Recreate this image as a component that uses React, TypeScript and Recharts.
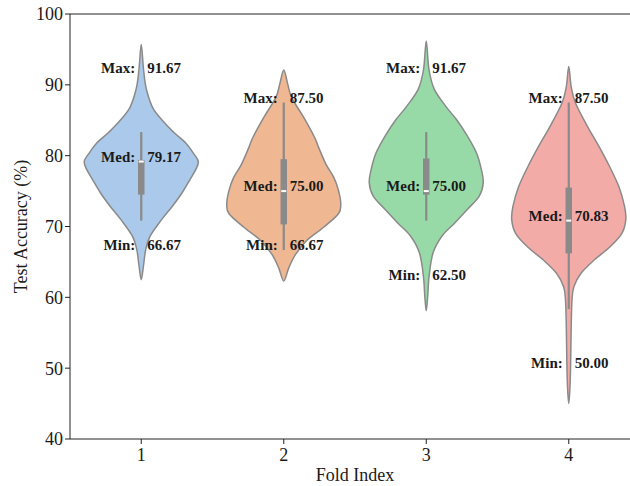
import { ComposedChart, Scatter, XAxis, YAxis, ReferenceLine } from 'recharts';

const FOLDS = [1, 2, 3, 4];
const FOLD_COLORS = ['#abc9ea', '#efb792', '#98daa7', '#f3aba8'];
const Y_TICKS = [40, 50, 60, 70, 80, 90, 100];

// kde outline of every fold: accuracy level and relative density (1 = widest point)
const fold1Levels = [62.5, 64.5, 66.8, 68.7, 71.0, 72.9, 74.8, 76.7, 78.1, 79.2, 80.4, 81.8, 83.7, 86.5, 89.4, 92.2, 95.7];
const fold1Density = [0, 0.04, 0.08, 0.16, 0.36, 0.55, 0.72, 0.86, 0.96, 1.0, 0.91, 0.78, 0.52, 0.22, 0.09, 0.04, 0];
const fold2Levels = [62.3, 64.2, 66.1, 68.0, 69.9, 71.8, 73.2, 75.1, 76.9, 78.8, 81.2, 82.6, 85.4, 88.2, 90.1, 92.1];
const fold2Density = [0, 0.09, 0.21, 0.4, 0.7, 0.96, 1.0, 0.96, 0.88, 0.74, 0.61, 0.54, 0.35, 0.14, 0.07, 0];
const fold3Levels = [58.1, 60.2, 63.0, 66.3, 68.7, 70.5, 72.4, 74.3, 76.2, 78.1, 80.4, 82.8, 85.1, 87.0, 89.4, 92.2, 96.2];
const fold3Density = [0, 0.026, 0.05, 0.12, 0.28, 0.5, 0.72, 0.93, 1.0, 0.965, 0.88, 0.72, 0.53, 0.34, 0.14, 0.047, 0];
const fold4Levels = [45.0, 47.4, 51.1, 55.9, 59.6, 61.5, 63.4, 65.3, 67.1, 69.0, 70.9, 72.8, 75.6, 78.4, 81.3, 84.1, 87.4, 89.7, 92.6];
const fold4Density = [0, 0.022, 0.034, 0.043, 0.057, 0.09, 0.215, 0.45, 0.72, 0.93, 1.0, 0.98, 0.88, 0.72, 0.53, 0.33, 0.12, 0.043, 0];

// box statistics per fold
const whiskerLow = [70.83, 66.67, 70.83, 58.33];
const whiskerHigh = [83.33, 87.5, 83.33, 87.5];
const q1 = [74.5, 70.3, 74.5, 66.2];
const q3 = [79.4, 79.5, 79.6, 75.5];
const medians = [79.17, 75.0, 75.0, 70.83];
const maxAcc = [91.67, 87.5, 91.67, 87.5];
const minAcc = [66.67, 66.67, 62.5, 50.0];

const levels = [fold1Levels, fold2Levels, fold3Levels, fold4Levels];
const densities = [fold1Density, fold2Density, fold3Density, fold4Density];

const HALF_WIDTH = 0.4; // widest point of a violin, in fold units
const EDGE = '#8a8a8a';
const SERIF = '"Liberation Serif", "Times New Roman", serif';

// closed polygon outline: up the right side, back down the left side
const violinOutline = (fold: number, ys: number[], ds: number[]) => {
  const right = ys.map((y, i) => ({ x: fold + ds[i] * HALF_WIDTH, y }));
  const left = ys
    .map((y, i) => ({ x: fold - ds[i] * HALF_WIDTH, y }))
    .slice(1, -1)
    .reverse();
  return [...right, ...left];
};

// smooth closed path through the projected points (catmull-rom)
const smoothClosed = (pts: { x: number; y: number }[]) => {
  const n = pts.length;
  let d = `M${pts[0].x},${pts[0].y}`;
  for (let i = 0; i < n; i++) {
    const p0 = pts[(i - 1 + n) % n];
    const p1 = pts[i];
    const p2 = pts[(i + 1) % n];
    const p3 = pts[(i + 2) % n];
    const c1x = p1.x + (p2.x - p0.x) / 6;
    const c1y = p1.y + (p2.y - p0.y) / 6;
    const c2x = p2.x - (p3.x - p1.x) / 6;
    const c2y = p2.y - (p3.y - p1.y) / 6;
    d += ` C${c1x},${c1y} ${c2x},${c2y} ${p2.x},${p2.y}`;
  }
  return d + 'Z';
};

// pairs of points -> vertical segments
const segments = (width: number) => (props: any) => {
  const pts = props.points || [];
  const out = [];
  for (let i = 0; i + 1 < pts.length; i += 2) {
    out.push(
      <line key={i} x1={pts[i].x} y1={pts[i].y} x2={pts[i + 1].x} y2={pts[i + 1].y} stroke={EDGE} strokeWidth={width} />
    );
  }
  return <g>{out}</g>;
};

const noSymbol = () => <g />;

const whiskerData = FOLDS.flatMap((f, i) => [
  { x: f, y: whiskerLow[i] },
  { x: f, y: whiskerHigh[i] },
]);
const boxData = FOLDS.flatMap((f, i) => [
  { x: f, y: q1[i] },
  { x: f, y: q3[i] },
]);
const medianData = FOLDS.map((f, i) => ({ x: f, y: medians[i] }));
const labelData = FOLDS.flatMap((f, i) => [
  { x: f, y: maxAcc[i], tag: 'Max:' },
  { x: f, y: medians[i], tag: 'Med:' },
  { x: f, y: minAcc[i], tag: 'Min:' },
]);

const StatLabel = (props: any) => {
  const { cx, cy, payload } = props;
  const style = { fontFamily: SERIF, fontWeight: 700, fontSize: 15, fill: '#1a1a1a' };
  return (
    <g>
      <text x={cx - 6} y={cy} textAnchor="end" style={style}>
        {payload.tag}
      </text>
      <text x={cx + 6} y={cy} textAnchor="start" style={style}>
        {payload.y.toFixed(2)}
      </text>
    </g>
  );
};

const MedianMark = (props: any) => (
  <rect x={props.cx - 2.5} y={props.cy - 1} width={5} height={2} fill="#ffffff" />
);

const tickStyle = { fill: '#1a1a1a', fontSize: 18, fontFamily: SERIF };

export default function App() {
  return (
    <div style={{ position: 'absolute', left: 0, top: 0, width: 630, height: 486, overflow: 'hidden', background: '#fff' }}>
      <ComposedChart width={640} height={486} margin={{ top: 14, right: 0, bottom: 0, left: 0 }}>
        <XAxis
          type="number"
          dataKey="x"
          domain={[0.5, 4.5]}
          ticks={FOLDS}
          interval={0}
          height={47}
          tickSize={5}
          tickMargin={4}
          tick={tickStyle}
          axisLine={{ stroke: '#222' }}
          tickLine={{ stroke: '#222' }}
          label={{
            content: (p: any) => {
              const vb = p.viewBox || { x: 70, y: 439, width: 570, height: 47 };
              return (
                <text x={vb.x + vb.width / 2} y={481} textAnchor="middle" style={tickStyle}>
                  Fold Index
                </text>
              );
            },
          }}
        />
        <YAxis
          type="number"
          dataKey="y"
          domain={[40, 100]}
          ticks={Y_TICKS}
          interval={0}
          width={70}
          tickSize={5}
          tickMargin={2}
          tick={tickStyle}
          axisLine={{ stroke: '#222' }}
          tickLine={{ stroke: '#222' }}
          label={{
            content: (p: any) => {
              const vb = p.viewBox || { x: 0, y: 14, width: 70, height: 425 };
              const cy = vb.y + vb.height / 2;
              return (
                <text x={27} y={cy} transform={`rotate(-90, 27, ${cy})`} textAnchor="middle" style={tickStyle}>
                  Test Accuracy (%)
                </text>
              );
            },
          }}
        />
        <ReferenceLine y={100} stroke="#222" strokeWidth={1} />

        {FOLDS.map((f, i) => (
          <Scatter
            key={`violin-${f}`}
            data={violinOutline(f, levels[i], densities[i])}
            dataKey="y"
            isAnimationActive={false}
            shape={noSymbol}
            line={(p: any) => (
              <path d={smoothClosed(p.points)} fill={FOLD_COLORS[i]} stroke={EDGE} strokeWidth={1.5} />
            )}
          />
        ))}

        <Scatter data={whiskerData} dataKey="y" isAnimationActive={false} shape={noSymbol} line={segments(2.2)} />
        <Scatter data={boxData} dataKey="y" isAnimationActive={false} shape={noSymbol} line={segments(6.5)} />
        <Scatter data={medianData} dataKey="y" isAnimationActive={false} shape={MedianMark} />
        <Scatter data={labelData} dataKey="y" isAnimationActive={false} shape={StatLabel} />
      </ComposedChart>
    </div>
  );
}
